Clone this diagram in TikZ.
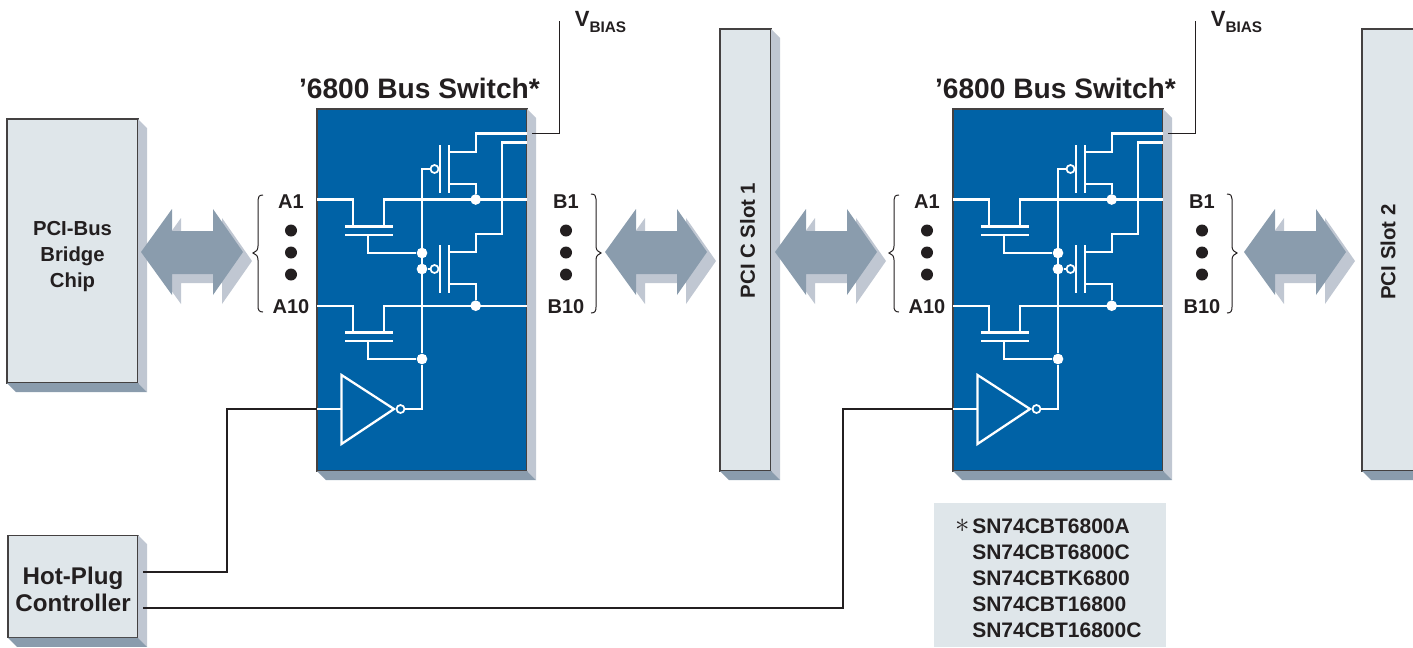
\documentclass[tikz,border=0pt]{standalone}
\usepackage{fontspec}
\setmainfont{Liberation Sans}
\definecolor{swblue}{HTML}{0062A6}
\definecolor{panel}{HTML}{DFE6EA}
\definecolor{sidelt}{HTML}{C0C7D2}
\definecolor{sidedk}{HTML}{8A9CAD}
\definecolor{ink}{HTML}{231F20}

\begin{document}
\begin{tikzpicture}[x=.75pt, y=-.75pt, text=ink, font=\bfseries,
  box/.style={draw=ink!85, line width=.9pt, fill=panel, outer sep=0pt, inner sep=0pt, align=center},
  wire/.style={draw=white, line width=1.7pt},
  plate/.style={draw=white, line width=1.9pt},
  feed/.style={draw=ink, line width=.8pt},
  dot/.style={circle, fill=white, inner sep=0pt, minimum size=8pt},
  bubble/.style={circle, draw=white, line width=1.3pt, fill=swblue, inner sep=0pt, minimum size=6pt},
  blob/.style={circle, fill=ink, inner sep=0pt, minimum size=9pt},
  pin/.style={font=\bfseries\fontsize{15}{18}\selectfont}]
\clip[use as bounding box] (0,0) rectangle (1413,647);

% boxes
\node[box, minimum width=98.25pt, minimum height=198pt] (bridge) at (72.5,251) {};
\node[align=center, font=\bfseries\fontsize{15.2}{19.5}\selectfont] (bridgetext) at (72.5,256.5) {PCI-Bus\\Bridge\\Chip};
\node[box, minimum width=97.5pt, minimum height=77pt] (hotplug) at (73,586.5) {};
\node[align=center, font=\bfseries\fontsize{18.1}{20.25}\selectfont] (hotplugtext) at (73,589.5) {Hot-Plug\\Controller};
\node[box, minimum width=38.25pt, minimum height=331.5pt] (slota) at (745.5,250) {};
\node[box, minimum width=42pt, minimum height=331.5pt] (slotb) at (1390,250) {};
\node[rotate=90, font=\bfseries\fontsize{15.3}{18}\selectfont] (slotatext) at (747.5,240.5) {PCI C Slot 1};
\node[rotate=90, font=\bfseries\fontsize{15.3}{18}\selectfont] (slotbtext) at (1388,252) {PCI Slot 2};
\node[box, minimum width=157.5pt, minimum height=271.5pt, fill=swblue] (sw1) at (422,290) {};
\node[box, minimum width=157.5pt, minimum height=271.5pt, fill=swblue] (sw2) at (1058,290) {};
\foreach \n in {bridge,hotplug,slota,slotb,sw1,sw2} {
  \fill[sidelt] (\n.north east) -- ++(9,9) -- ([shift={(9,9)}]\n.south east) -- (\n.south east) -- cycle;
  \fill[sidedk] (\n.south west) -- ++(9,9) -- ([shift={(9,9)}]\n.south east) -- (\n.south east) -- cycle;
}

% block arrows
\foreach \ax in {0,464,634,1103} {
  \begin{scope}[xshift=\ax*.75pt]
  \fill[sidelt] (150,261) -- (181,218) -- (181,240) -- (222,240) -- (222,218) -- (252,261) -- (222,304) -- (222,283) -- (181,283) -- (181,304) -- cycle;
  \fill[sidedk] (141,252) -- (172,209) -- (172,231) -- (213,231) -- (213,209) -- (243,252) -- (213,295) -- (213,274) -- (172,274) -- (172,295) -- cycle;
  \end{scope}
}

% the two switches
\foreach \i/\dx in {1/0,2/636} {
  \begin{scope}[xshift=\dx*.75pt]
  \node[font=\bfseries\fontsize{21.1}{24}\selectfont] (title\i) at (419.5,88) {’6800 Bus Switch*};
  \node[font=\bfseries\fontsize{16.5}{18}\selectfont] (vbias\i) at (600.5,22) {V\raisebox{-.25em}{\fontsize{11.5}{12}\selectfont BIAS}};
  \node[pin] (aone\i) at (291,202) {A1};
  \node[pin] (aten\i) at (291,307) {A10};
  \node[pin] (bone\i) at (566,202) {B1};
  \node[pin] (bten\i) at (566,307) {B10};
  \foreach \k/\yy in {1/230.5,2/252.5,3/274.5} {
    \node[blob] (adot\i\k) at (291,\yy) {};
    \node[blob] (bdot\i\k) at (566,\yy) {};
  }
  % braces
  \draw[ink, line width=.75pt] (263,195) .. controls (259,195) and (258,197) .. (258,200) -- (258,246) .. controls (258,250) and (256,252) .. (253,253) .. controls (256,254) and (258,256) .. (258,260) -- (258,306) .. controls (258,310) and (259,312) .. (263,312);
  \draw[ink, line width=.75pt] (591,194) .. controls (595,194) and (596,196) .. (596,199) -- (596,246) .. controls (596,250) and (598,252) .. (601,253) .. controls (598,254) and (596,256) .. (596,260) -- (596,307) .. controls (596,311) and (595,313) .. (591,313);
  % junctions
  \node[dot] (dup\i) at (475.7,199.5) {};
  \node[dot] (dlo\i) at (475.7,305.7) {};
  \node[dot] (ja\i) at (422,253) {};
  \node[dot] (jb\i) at (422,269) {};
  \node[dot] (jc\i) at (422,359) {};
  \coordinate (swin\i) at (317,409);
  \coordinate (vtap\i) at (532,133.5);
  \coordinate (vtop\i) at (559.5,21);
  % rails
  \draw[wire] (527,133.5) -- (475.7,133.5) -- (475.7,152) -- (449,152);
  \draw[wire] (527,142.5) -- (502.3,142.5) -- (502.3,234.3) -- (475.7,234.3) -- (475.7,252) -- (449,252);
  \draw[wire] (317,199.5) -- (353,199.5) -- (353,226.5);
  \draw[wire] (384,226.5) -- (384,199.5) -- (527,199.5);
  \draw[wire] (317,305.7) -- (353,305.7) -- (353,332.5);
  \draw[wire] (384,332.5) -- (384,305.7) -- (527,305.7);
  % upper fets
  \draw[plate] (440,145) -- (440,192.5);
  \draw[plate] (449,145) -- (449,192.5);
  \draw[plate] (440,245) -- (440,292.5);
  \draw[plate] (449,245) -- (449,292.5);
  \draw[wire] (449,184) -- (475.7,184) -- (dup\i);
  \draw[wire] (449,284) -- (475.7,284) -- (dlo\i);
  \node[bubble] (gup\i) at (434.5,169) {};
  \node[bubble] (glo\i) at (434.5,269) {};
  \draw[wire] (gup\i) -- (422,169) -- (jc\i);
  \draw[wire] (glo\i) -- (jb\i);
  % pass fets
  \draw[plate] (345,226.5) -- (392.5,226.5);
  \draw[plate] (345,235) -- (392.5,235);
  \draw[plate] (345,332.5) -- (392.5,332.5);
  \draw[plate] (345,341) -- (392.5,341);
  \draw[wire] (368.3,235) -- (368.3,253) -- (ja\i);
  \draw[wire] (368.3,341) -- (368.3,359) -- (jc\i);
  % inverter
  \draw[wire, line join=miter] (341.5,375) -- (394,409) -- (341.5,444) -- cycle;
  \node[bubble] (inv\i) at (400.5,409) {};
  \draw[wire] (swin\i) -- (341.5,409);
  \draw[wire] (inv\i) -- (422,409) -- (jc\i);
  \draw[feed] (vtap\i) -- (559.5,133.5) -- (vtop\i);
  \end{scope}
}

% control lines
\coordinate (plugone) at (143,572);
\coordinate (plugtwo) at (143,608);
\draw[feed] (plugone) -- (227,572) |- (swin1);
\draw[feed] (plugtwo) -- (843,608) |- (swin2);

% part list
\node[fill=panel, inner sep=0pt, minimum width=174pt, minimum height=108pt] (parts) at (1050,575) {};
\node[anchor=north west, inner sep=0pt, align=left, font=\bfseries\fontsize{15.75}{19.5}\selectfont] (partlist) at (972,518.5) {\llap{\mdseries\raisebox{.08em}{\scalebox{1.5}{$\ast$}}\kern2pt}SN74CBT6800A\\SN74CBT6800C\\SN74CBTK6800\\SN74CBT16800\\SN74CBT16800C};
\end{tikzpicture}
\end{document}
